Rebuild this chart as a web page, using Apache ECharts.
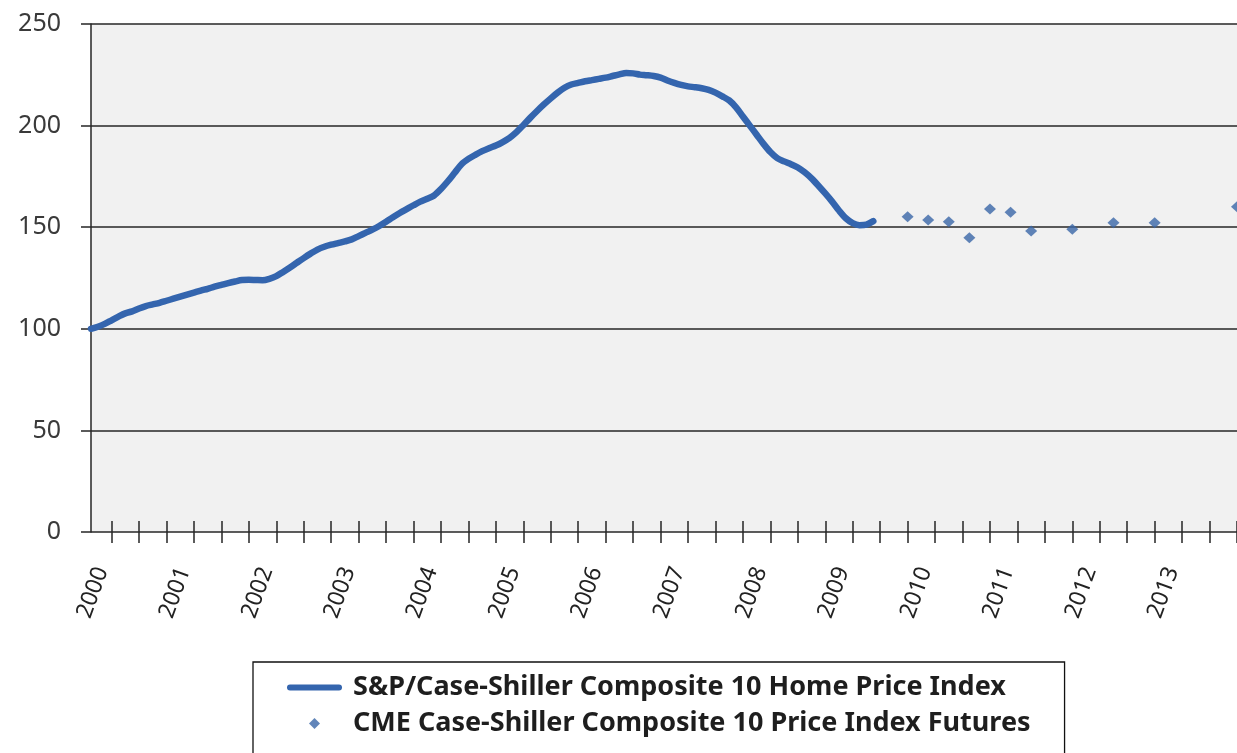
<!DOCTYPE html>
<html lang="en">
<head>
  <meta http-equiv="Content-Type" content="text/html; charset=UTF-8">
  <title>Case-Shiller Composite 10</title>
  <script type="text/javascript" src="https://cdn.jsdelivr.net/npm/echarts@6/dist/echarts.min.js"></script>
  <style>
    html, body { margin: 0; padding: 0; background: #fff; }
    #main { width: 1237px; height: 753px; }
  </style>
</head>
<body>
<div id="main"></div>
<script type="text/javascript">
  // years on the axis, monthly categories
  var years = [2000, 2001, 2002, 2003, 2004, 2005, 2006, 2007, 2008, 2009, 2010, 2011, 2012, 2013];
  var months = ['01', '02', '03', '04', '05', '06', '07', '08', '09', '10', '11', '12'];

  // y axis
  var yMin = 0, yMax = 250, yStep = 50;

  // S&P/Case-Shiller Composite 10, monthly from Jan 2000
  var indexValues = [
    100.0, 101.0, 102.4, 104.2, 106.0, 107.6, 108.6, 110.0, 111.2, 112.0, 112.8, 113.8,
    114.8, 115.8, 116.8, 117.8, 118.8, 119.7, 120.7, 121.6, 122.5, 123.3, 124.0, 124.1,
    124.0, 123.9, 124.6, 125.9, 128.0, 130.2, 132.5, 134.8, 137.0, 139.0, 140.4, 141.4,
    142.2, 143.0, 144.0, 145.6, 147.2, 148.8, 150.6, 152.7, 154.9, 157.0, 158.9, 160.8,
    162.6, 164.0, 165.6, 168.8, 172.6, 176.8, 181.0, 183.6, 185.6, 187.4, 188.9, 190.2,
    191.9, 194.0, 196.8, 200.2, 203.8, 207.2, 210.4, 213.4, 216.2, 218.6, 220.2, 221.0,
    221.8, 222.4, 223.0, 223.6, 224.4, 225.2, 225.9, 225.7, 225.1, 224.8, 224.4, 223.6,
    222.2, 221.0, 220.0, 219.3, 218.9, 218.4, 217.6, 216.2, 214.4, 212.4, 209.0, 204.5,
    200.0, 195.5, 191.0, 187.0, 184.0, 182.4, 181.0, 179.4, 177.0, 174.0, 170.4, 166.6,
    162.6, 158.2, 154.4, 152.0, 151.0, 151.3, 153.0
  ];

  // CME futures contracts
  var futureMonths = ['2009-12', '2010-03', '2010-06', '2010-09', '2010-12', '2011-03',
                      '2011-06', '2011-12', '2012-06', '2012-12', '2013-12'];
  var futureValues = [155.2, 153.5, 152.7, 144.8, 159.0, 157.3, 148.1, 149.0, 152.2, 152.2, 160.1];

  var lineName = 'S&P/Case-Shiller Composite 10 Home Price Index';
  var futName = 'CME Case-Shiller Composite 10 Price Index Futures';

  var categories = [];
  years.forEach(function (y) {
    months.forEach(function (m) { categories.push(y + '-' + m); });
  });
  var futureData = futureMonths.map(function (m, i) { return [m, futureValues[i]]; });

  var tickEvery4 = function (i) { return i % 4 === 3; };
  var axisColor = '#262626';
  var blue = '#3465ae';

  var myChart = echarts.init(document.getElementById('main'));
  myChart.setOption({
    animation: false,
    backgroundColor: '#fff',
    grid: {
      left: 91, right: 0, top: 24, bottom: 221,
      show: true, backgroundColor: '#f1f1f1', borderWidth: 0
    },
    legend: {
      orient: 'vertical',
      left: 253, top: 662, height: 200,
      padding: [12, 34, 40, 34],
      borderColor: '#111', borderWidth: 1.3,
      itemWidth: 55, itemHeight: 11, itemGap: 9,
      textStyle: {
        fontFamily: 'Noto Sans', fontWeight: 'bold', fontSize: 27, color: '#1e1e1e',
        padding: [0, 0, 0, 6]
      },
      data: [
        { name: lineName, icon: 'path://M3,0 H52 A3,3 0 0 1 52,6 H3 A3,3 0 0 1 3,0 Z', itemStyle: { color: blue } },
        { name: futName, icon: 'path://M5,0 L10,5 L5,10 L0,5 Z', itemStyle: { color: '#3a67a8' } }
      ]
    },
    xAxis: {
      // axis lifted 11px so its ticks cross the zero line; the zero split line stands in for the axis line
      type: 'category', data: categories, boundaryGap: false, position: 'bottom', offset: -11, z: 5,
      axisLine: { show: false },
      axisTick: { show: true, interval: tickEvery4, length: 22, lineStyle: { color: axisColor, width: 1.5 } },
      axisLabel: {
        interval: 11, rotate: 70, margin: 43, verticalAlign: 'top',
        fontFamily: 'Noto Sans', fontSize: 23, color: '#222',
        formatter: function (v) { return v.slice(0, 4); }
      },
      splitLine: { show: false }
    },
    yAxis: {
      type: 'value', min: yMin, max: yMax, interval: yStep,
      axisLine: { show: true, lineStyle: { color: axisColor, width: 1.5 } },
      axisTick: { show: true, length: 10, lineStyle: { color: axisColor, width: 1.5 } },
      axisLabel: { margin: 30, fontFamily: 'Noto Sans', fontSize: 25, color: '#3a3a3a' },
      splitLine: { lineStyle: { color: axisColor, width: 1.5 } }
    },
    series: [
      {
        name: lineName, type: 'line', data: indexValues,
        symbol: 'none', smooth: 0.3,
        lineStyle: { color: blue, width: 6.5, cap: 'round' },
        itemStyle: { color: blue }
      },
      {
        name: futName, type: 'scatter', data: futureData,
        symbol: 'diamond', symbolSize: [12, 11],
        itemStyle: { color: '#3a67a8' }
      }
    ]
  });
</script>
</body>
</html>
